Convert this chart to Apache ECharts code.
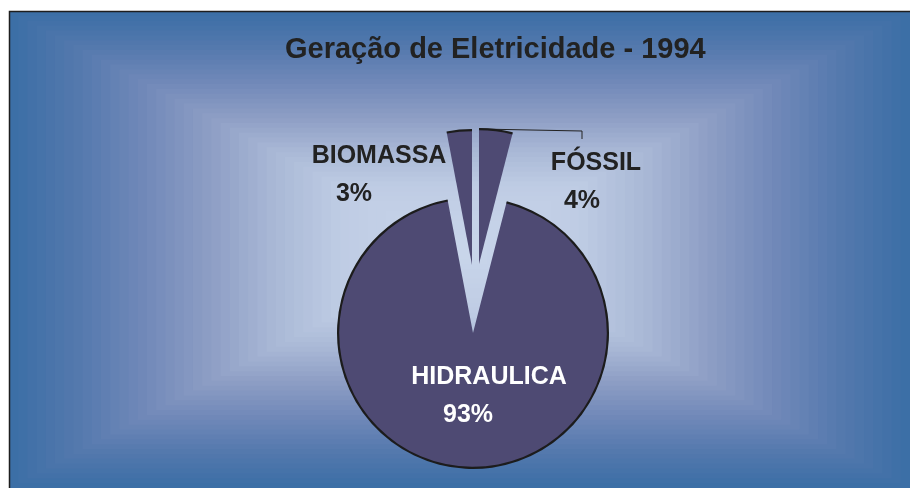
<!DOCTYPE html>
<html>
<head>
<meta charset="utf-8">
<script src="https://cdn.jsdelivr.net/npm/echarts@6/dist/echarts.min.js"></script>
<style>
  html, body { margin: 0; padding: 0; background: #fff; }
  #chart { width: 910px; height: 488px; }
</style>
</head>
<body>
<div id="chart"></div>
<script>
// data (order follows the drawing, clockwise from 12 o'clock)
var categories = ['FÓSSIL', 'HIDRAULICA', 'BIOMASSA'];
var values = [4, 93, 3];
var titleText = 'Geração de Eletricidade - 1994';

var FONT = 'Liberation Sans, Arial, sans-serif';
var PIE = '#4e4a73';
var R = 135;

// label placement per category: centre x, top y, shift of the % line, text colour
var labelCfg = {
    'BIOMASSA':   { x: 379, y: 137, pad: 50, color: '#222' },
    'FÓSSIL':     { x: 596, y: 144, pad: 28, color: '#222' },
    'HIDRAULICA': { x: 489, y: 358, pad: 42, color: '#fff' }
};

// box shaped gradient of the backdrop, built from nested rects
var stops = [
    [0, [58, 110, 166]], [0.15, [83, 120, 173]], [0.3, [112, 136, 184]],
    [0.45, [140, 157, 196]], [0.6, [169, 184, 214]], [0.75, [191, 204, 228]],
    [1, [200, 213, 234]]
];
function shade(t) {
    for (var i = 1; i < stops.length; i++) {
        if (t <= stops[i][0]) {
            var a = stops[i - 1], b = stops[i];
            var k = (t - a[0]) / (b[0] - a[0]);
            var c = a[1].map(function (v, j) { return Math.round(v + (b[1][j] - v) * k); });
            return 'rgb(' + c.join(',') + ')';
        }
    }
    return 'rgb(' + stops[stops.length - 1][1].join(',') + ')';
}
var box = { x: 9, y: 11, w: 901, h: 477 };
var bg = [];
var N = 48;
for (var i = 0; i < N; i++) {
    var s = i / N * 0.98;
    bg.push({
        type: 'rect', silent: true, z: -10 + i * 0.01,
        shape: { x: box.x + s * box.w / 2, y: box.y + s * box.h / 2,
                 width: box.w * (1 - s), height: box.h * (1 - s) },
        style: { fill: shade((i + 0.5) / N) }
    });
}
bg.push({
    type: 'rect', silent: true, z: -1,
    shape: { x: 9.5, y: 11.5, width: 920, height: 500 },
    style: { fill: 'none', stroke: '#1e1e1e', lineWidth: 1.5 }
});

function buildData(shown, isArc) {
    return categories.map(function (name, i) {
        var on = shown.indexOf(name) >= 0;
        var cfg = labelCfg[name];
        return {
            name: name,
            value: values[i],
            itemStyle: { color: on ? (isArc ? '#1c1c1c' : PIE) : 'rgba(0,0,0,0)', borderWidth: 0 },
            label: {
                show: on && !isArc,
                color: cfg.color,
                rich: {
                    n: { fontSize: 25, fontWeight: 'bold', fontFamily: FONT, color: cfg.color, lineHeight: 38 },
                    p: { fontSize: 25, fontWeight: 'bold', fontFamily: FONT, color: cfg.color, lineHeight: 38,
                         padding: [0, cfg.pad, 0, 0] }
                }
            },
            labelLine: { show: on && !isArc && name === 'FÓSSIL' }
        };
    });
}

function pieSeries(center, shown, isArc) {
    return {
        type: 'pie',
        silent: true,
        center: center,
        radius: isArc ? [R - 1.2, R + 1] : [0, R],
        startAngle: 90,
        clockwise: true,
        avoidLabelOverlap: false,
        label: {
            position: 'outside',
            formatter: function (p) { return '{n|' + p.name + '}\n{p|' + Math.round(p.percent) + '%}'; }
        },
        labelLine: { lineStyle: { color: '#222', width: 1 }, length: 0, length2: 0 },
        labelLayout: function (p) {
            var cfg = labelCfg[categories[p.dataIndex]];
            var out = { x: cfg.x, y: cfg.y, align: 'center', verticalAlign: 'top' };
            if (categories[p.dataIndex] === 'FÓSSIL') {
                var top = [center[0] + 1, center[1] - R];
                var lx = cfg.x - cfg.pad / 2;
                out.labelLinePoints = [top, [lx, top[1] + 2], [lx, top[1] + 10]];
            }
            return out;
        },
        emphasis: { disabled: true },
        data: buildData(shown, isArc)
    };
}

var series = [
    pieSeries([473, 333], ['HIDRAULICA'], false),
    pieSeries([473, 333], ['HIDRAULICA'], true),
    pieSeries([472, 265], ['BIOMASSA'], false),
    pieSeries([472, 265], ['BIOMASSA'], true),
    pieSeries([479, 264], ['FÓSSIL'], false),
    pieSeries([479, 264], ['FÓSSIL'], true)
];

var chart = echarts.init(document.getElementById('chart'), null, { renderer: 'canvas' });
chart.setOption({
    animation: false,
    title: {
        text: titleText,
        left: 280,
        top: 30,
        textStyle: { fontSize: 29, fontWeight: 'bold', color: '#222', fontFamily: FONT }
    },
    graphic: bg,
    series: series
});
</script>
</body>
</html>
